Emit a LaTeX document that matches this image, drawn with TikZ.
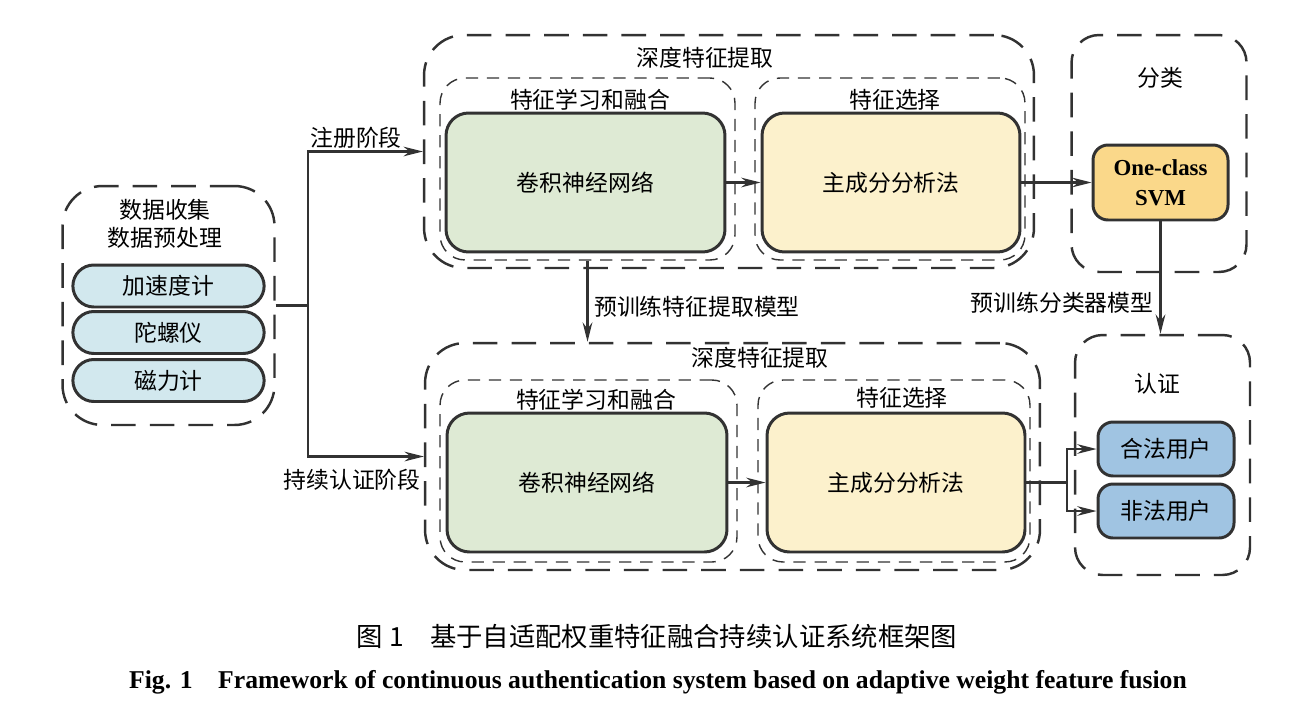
\documentclass[tikz,border=0pt]{standalone}
\usepackage{fontspec}
\setmainfont{Liberation Serif}
\newfontfamily\cjk{Noto Sans CJK SC}
\usepackage{tikz}
\usetikzlibrary{shapes.misc,arrows.meta}
\definecolor{linegray}{RGB}{50,50,50}
\definecolor{cnnfill}{RGB}{222,234,212}
\definecolor{pcafill}{RGB}{252,241,204}
\definecolor{svmfill}{RGB}{250,216,138}
\definecolor{sensfill}{RGB}{210,232,238}
\definecolor{userfill}{RGB}{160,196,226}
\tikzset{stagebox/.style={draw=linegray,line width=1.4pt,dash pattern=on 14pt off 8pt,rounded corners=0.8cm},partbox/.style={draw=linegray,line width=0.8pt,dash pattern=on 7pt off 5pt,rounded corners=0.5cm}}
\tikzset{blockbox/.style={draw=linegray,line width=1.7pt,rounded corners=0.45cm,font=\cjk\fontsize{13}{16}\selectfont},pill/.style={rounded rectangle,draw=linegray,line width=1.7pt,fill=sensfill,minimum width=4.06cm,minimum height=0.84cm,font=\cjk\fontsize{13}{16}\selectfont},lab/.style={font=\cjk\fontsize{13}{16}\selectfont,inner sep=1pt}}
\tikzset{conn/.style={draw=linegray,line width=1.4pt},arr/.style={conn,-{Stealth[length=11pt,width=5.5pt]}}}

\begin{document}
\begin{tikzpicture}[x=0.02cm,y=-0.02cm]
  \useasboundingbox (0,0) rectangle (1300,720);
  \node[stagebox,minimum width=4.24cm,minimum height=4.78cm] (collect) at (168.5,305.5) {};
  \node[lab,align=center] (collectlbl) at (165,224) {数据收集\\数据预处理};
  \node[pill] (acc) at (168.5,286) {加速度计};
  \node[pill] (gyro) at (168.5,332.5) {陀螺仪};
  \node[pill] (mag) at (168.5,380.5) {磁力计};
  \coordinate (split) at (308,305.5);
  \node[lab] (enroll) at (356,138) {注册阶段};
  \node[lab] (contin) at (352,480) {持续认证阶段};

  \node[stagebox,minimum width=12.2cm,minimum height=4.66cm] (deep1) at (729,151.5) {};
  \node[lab] (deep1lbl) at (705,58) {深度特征提取};
  \node[partbox,minimum width=5.9cm,minimum height=3.64cm] (learn1) at (587.5,169) {};
  \node[lab] (learn1lbl) at (590,100) {特征学习和融合};
  \node[partbox,minimum width=5.4cm,minimum height=3.64cm] (select1) at (890,169) {};
  \node[lab] (select1lbl) at (895,100) {特征选择};
  \node[blockbox,fill=cnnfill,minimum width=5.58cm,minimum height=2.78cm] (cnn1) at (585.5,182.5) {卷积神经网络};
  \node[blockbox,fill=pcafill,minimum width=5.16cm,minimum height=2.78cm] (pca1) at (891,182.5) {主成分分析法};

  \node[stagebox,minimum width=3.5cm,minimum height=4.74cm,rounded corners=0.55cm] (cls) at (1159,153.5) {};
  \node[lab] (clslbl) at (1160,78) {分类};
  \node[blockbox,fill=svmfill,minimum width=2.7cm,minimum height=1.5cm,rounded corners=0.3cm,align=center,font=\bfseries\fontsize{13}{17}\selectfont] (svm) at (1160.5,182.5) {One-class\\SVM};

  \node[stagebox,minimum width=12.3cm,minimum height=4.54cm] (deep2) at (732.5,456.5) {};
  \node[lab] (deep2lbl) at (760,358) {深度特征提取};
  \node[partbox,minimum width=5.94cm,minimum height=3.64cm] (learn2) at (588.5,471) {};
  \node[lab] (learn2lbl) at (596,400) {特征学习和融合};
  \node[partbox,minimum width=5.44cm,minimum height=3.64cm] (select2) at (894,471) {};
  \node[lab] (select2lbl) at (902,398) {特征选择};
  \node[blockbox,fill=cnnfill,minimum width=5.6cm,minimum height=2.78cm] (cnn2) at (587,482.5) {卷积神经网络};
  \node[blockbox,fill=pcafill,minimum width=5.16cm,minimum height=2.78cm] (pca2) at (896,482.5) {主成分分析法};

  \node[stagebox,minimum width=3.5cm,minimum height=4.8cm,rounded corners=0.55cm] (auth) at (1162.5,455) {};
  \node[lab] (authlbl) at (1157,384) {认证};
  \node[blockbox,fill=userfill,minimum width=2.72cm,minimum height=1.08cm,rounded corners=0.3cm] (legit) at (1166,449) {合法用户};
  \node[blockbox,fill=userfill,minimum width=2.72cm,minimum height=1.08cm,rounded corners=0.3cm] (illegit) at (1166,511) {非法用户};
  \coordinate (fork) at (1067,482.5);

  \node[lab] (featmodel) at (697,307) {预训练特征提取模型};
  \node[lab] (clsmodel) at (1062,303) {预训练分类器模型};

  \draw[conn] (collect.east) -- (split);
  \draw[arr] (split) |- (deep1.west);
  \draw[arr] (split) |- (deep2.west);
  \draw[arr] (cnn1) -- (pca1);
  \draw[arr] (pca1) -- (svm);
  \draw[arr] (svm) -- (svm.south |- auth.north);
  \draw[arr] (learn1.south) -- (learn1.south |- deep2.north);
  \draw[arr] (cnn2) -- (pca2);
  \draw[conn] (pca2.east) -- (fork);
  \draw[arr] (fork) |- (legit.west);
  \draw[arr] (fork) |- (illegit.west);

  \node[font=\cjk\fontsize{15}{18}\selectfont] (capzh) at (657,636) {图 1\quad 基于自适配权重特征融合持续认证系统框架图};
  \node[font=\bfseries\fontsize{14.6}{17}\selectfont] (capen) at (658,682) {Fig. 1\quad Framework of continuous authentication system based on adaptive weight feature fusion};
\end{tikzpicture}
\end{document}
